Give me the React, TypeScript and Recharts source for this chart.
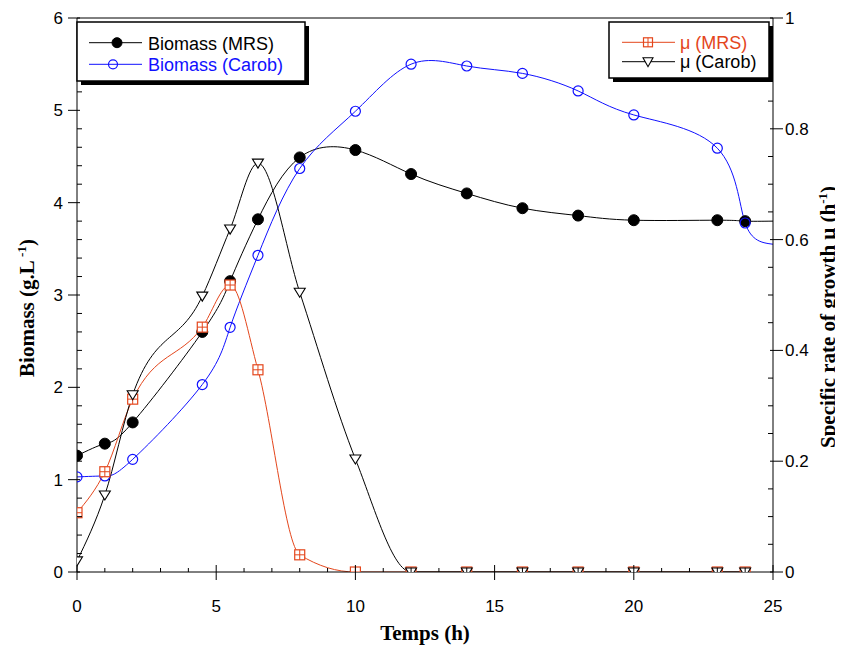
import React from 'react';
import { ComposedChart, Line, XAxis, YAxis, ReferenceLine, Legend } from 'recharts';

// ---------- data ----------
const time = [0, 1, 2, 4.5, 5.5, 6.5, 8, 10, 12, 14, 16, 18, 20, 23, 24, 25];
const biomassMRS = [1.26, 1.39, 1.62, 2.6, 3.15, 3.82, 4.49, 4.57, 4.31, 4.1, 3.94, 3.86, 3.81, 3.81, 3.8, 3.8];
const biomassCarob = [1.03, 1.04, 1.22, 2.03, 2.65, 3.43, 4.37, 4.99, 5.5, 5.48, 5.4, 5.21, 4.95, 4.59, 3.78, 3.55];
const muMRS: (number | null)[] = [0.107, 0.181, 0.312, 0.442, 0.518, 0.365, 0.031, 0, 0, 0, 0, 0, 0, 0, 0, null];
const muCarob: (number | null)[] = [0.02, 0.139, 0.32, 0.498, 0.619, 0.738, 0.505, 0.204, 0, 0, 0, 0, 0, 0, 0, null];
const lastMeasured = 24; // the curves run on to 25 without a marker

const seriesNames = ['Biomass (MRS)', 'Biomass (Carob)', 'μ (MRS)', 'μ (Carob)'];
const xLabels = [0, 5, 10, 15, 20, 25];
const leftLabels = [0, 1, 2, 3, 4, 5, 6];
const rightLabels = [0, 0.2, 0.4, 0.6, 0.8, 1];
const xTitle = 'Temps (h)';
const leftTitle = 'Biomass (g.L';
const rightTitle = 'Specific rate of growth μ (h';

// ---------- styling / layout ----------
const W = 835;
const H = 638;
const LEFT_W = 69;
const RIGHT_W = 70;
const TOP = 10;
const X_H = 74;
const RED = '#e4461c';
const BLUE = '#1010ff';
const SANS = '"Liberation Sans", Arial, sans-serif';
const SERIF = '"Liberation Serif", "Times New Roman", serif';

const range = (a: number, b: number, s: number) =>
  Array.from({ length: Math.round((b - a) / s) + 1 }, (_, i) => +(a + i * s).toFixed(4));
const xTicks = range(0, 25, 1);
const leftTicks = range(0, 6, 0.2);
const rightTicks = range(0, 1, 0.05);
const isIn = (v: number, arr: number[]) => arr.some((l) => Math.abs(l - v) < 1e-6);

const data = time.map((t, i) => ({
  t,
  bm: biomassMRS[i],
  bc: biomassCarob[i],
  mm: muMRS[i],
  mc: muCarob[i],
}));

// ---------- ticks ----------
const XTick = (p: any) => {
  const { x, y, payload } = p;
  const v = payload.value;
  if (isIn(v, xLabels)) {
    return (
      <g>
        <line x1={x} x2={x} y1={y - 7} y2={y + 8} stroke="#000" />
        <text x={x} y={y + 40} textAnchor="middle" fontFamily={SANS} fontSize={17} fill="#000">
          {v}
        </text>
      </g>
    );
  }
  return <line x1={x} x2={x} y1={y} y2={y - 4} stroke="#000" />;
};

const LeftTick = (p: any) => {
  const { x, y, payload } = p;
  const v = payload.value;
  if (isIn(v, leftLabels)) {
    return (
      <g>
        <line x1={x - 9} x2={x + 3} y1={y} y2={y} stroke="#000" />
        <text x={x - 14} y={y + 6} textAnchor="end" fontFamily={SANS} fontSize={17} fill="#000">
          {Math.round(v)}
        </text>
      </g>
    );
  }
  return <line x1={x} x2={x + 5} y1={y} y2={y} stroke="#000" />;
};

const RightTick = (p: any) => {
  const { x, y, payload } = p;
  const v = payload.value;
  if (isIn(v, rightLabels)) {
    const s = Math.abs(v) < 1e-6 ? '0' : Math.abs(v - 1) < 1e-6 ? '1' : v.toFixed(1);
    return (
      <g>
        <line x1={x - 3} x2={x + 10} y1={y} y2={y} stroke="#000" />
        <text x={x + 12} y={y + 6} textAnchor="start" fontFamily={SANS} fontSize={17} fill="#000">
          {s}
        </text>
      </g>
    );
  }
  return <line x1={x - 5} x2={x} y1={y} y2={y} stroke="#000" />;
};

// ---------- axis titles ----------
const XTitle = () => (
  <text x={LEFT_W + (W - LEFT_W - RIGHT_W) / 2} y={H - 6} textAnchor="middle" fontFamily={SERIF} fontWeight="bold" fontSize={21} fill="#000">
    {xTitle}
  </text>
);

const LeftTitle = () => {
  const cx = 25.5;
  const cy = 300;
  return (
    <text x={cx} y={cy} transform={`rotate(-90 ${cx} ${cy})`} textAnchor="middle" fontFamily={SERIF} fontWeight="bold" fontSize={21} fill="#000">
      <tspan>{leftTitle}</tspan>
      <tspan dy={-8} fontSize={13}> -1</tspan>
      <tspan dy={8}>)</tspan>
    </text>
  );
};

const RightTitle = () => {
  const cx = 827;
  const cy = 309;
  return (
    <text x={cx} y={cy} transform={`rotate(-90 ${cx} ${cy})`} textAnchor="middle" fontFamily={SERIF} fontWeight="bold" fontSize={21} fill="#000">
      <tspan>{rightTitle}</tspan>
      <tspan dy={-8} fontSize={13}>-1</tspan>
      <tspan dy={8}>)</tspan>
    </text>
  );
};

// ---------- markers ----------
const hidden = (p: any) =>
  p.cx == null || p.cy == null || p.value == null || (p.payload && p.payload.t > lastMeasured);

const FilledCircle = ({ cx, cy, r = 5.5 }: any) => <circle cx={cx} cy={cy} r={r} fill="#000" stroke="#000" />;
const OpenCircle = ({ cx, cy, r = 5 }: any) => (
  <circle cx={cx} cy={cy} r={r} fill="none" stroke={BLUE} strokeWidth={1.2} />
);
const GridSquare = ({ cx, cy, s = 5 }: any) => (
  <g>
    <rect x={cx - s} y={cy - s} width={2 * s} height={2 * s} fill="#fff" stroke={RED} strokeWidth={1.2} />
    <line x1={cx} x2={cx} y1={cy - s} y2={cy + s} stroke={RED} strokeWidth={1} />
    <line x1={cx - s} x2={cx + s} y1={cy} y2={cy} stroke={RED} strokeWidth={1} />
  </g>
);
const DownTriangle = ({ cx, cy, s = 5.5 }: any) => (
  <path d={`M${cx - s},${cy - 4} L${cx + s},${cy - 4} L${cx},${cy + 5} Z`} fill="#fff" stroke="#000" strokeWidth={1.1} />
);

const dotOf = (Comp: any) => (p: any) =>
  hidden(p) ? <g key={`d${p.index}`} /> : <g key={`d${p.index}`}><Comp cx={p.cx} cy={p.cy} /></g>;

// ---------- legend ----------
const LegendBoxes = () => {
  const row = (
    y: number,
    x1: number,
    x2: number,
    tx: number,
    ty: number,
    lineColor: string,
    textColor: string,
    label: string,
    marker: React.ReactNode
  ) => (
    <g>
      <line x1={x1} x2={x2} y1={y} y2={y} stroke={lineColor} strokeWidth={1} />
      {marker}
      <text x={tx} y={ty} fontFamily={SANS} fontSize={18} fill={textColor}>
        {label}
      </text>
    </g>
  );
  return (
    <svg width={W} height={90} style={{ display: 'block' }}>
      {/* left box */}
      <rect x={73} y={18} width={228} height={59} fill="#000" />
      <rect x={69} y={14} width={228} height={59} fill="#fff" stroke="#000" strokeWidth={1.5} />
      {row(34.7, 81, 134, 140, 41.5, '#000', '#000', seriesNames[0], <FilledCircle cx={109} cy={34.7} r={5} />)}
      {row(56.3, 81, 134, 140, 62.8, BLUE, BLUE, seriesNames[1], <OpenCircle cx={105} cy={56.3} r={4.5} />)}
      {/* right box */}
      <rect x={605} y={18} width={160} height={56} fill="#000" />
      <rect x={601} y={14} width={160} height={56} fill="#fff" stroke="#000" strokeWidth={1.5} />
      {row(34.3, 614, 667, 672, 41.3, RED, RED, seriesNames[2], <GridSquare cx={640} cy={34.3} s={4.5} />)}
      {row(53.7, 614, 667, 672, 60.3, '#000', '#000', seriesNames[3], <DownTriangle cx={640} cy={53.7} s={5} />)}
    </svg>
  );
};

export default function App() {
  return (
    <div style={{ width: W, height: H }}>
      <ComposedChart width={W} height={H} data={data} margin={{ top: TOP, right: 0, bottom: 0, left: 0 }}>
        <XAxis
          dataKey="t"
          type="number"
          domain={[0, 25]}
          ticks={xTicks}
          interval={0}
          tick={<XTick />}
          tickLine={false}
          tickSize={0}
          tickMargin={0}
          height={X_H}
          axisLine={{ stroke: '#000' }}
          allowDataOverflow
          label={<XTitle />}
        />
        <YAxis
          yAxisId="left"
          orientation="left"
          type="number"
          domain={[0, 6]}
          ticks={leftTicks}
          interval={0}
          tick={<LeftTick />}
          tickLine={false}
          tickSize={0}
          tickMargin={0}
          width={LEFT_W}
          axisLine={{ stroke: '#000' }}
          allowDataOverflow
          label={<LeftTitle />}
        />
        <YAxis
          yAxisId="right"
          orientation="right"
          type="number"
          domain={[0, 1]}
          ticks={rightTicks}
          interval={0}
          tick={<RightTick />}
          tickLine={false}
          tickSize={0}
          tickMargin={0}
          width={RIGHT_W}
          axisLine={{ stroke: '#000' }}
          allowDataOverflow
          label={<RightTitle />}
        />
        <ReferenceLine yAxisId="left" y={6} stroke="#000" />
        <Legend
          verticalAlign="middle"
          align="center"
          layout="horizontal"
          wrapperStyle={{ position: 'absolute', top: 0, left: 0, width: W, height: 90, margin: 0, padding: 0 }}
          content={() => <LegendBoxes />}
        />
        <Line yAxisId="left" dataKey="bm" name={seriesNames[0]} type="natural" stroke="#000" strokeWidth={1} dot={dotOf(FilledCircle)} activeDot={false} isAnimationActive={false} />
        <Line yAxisId="left" dataKey="bc" name={seriesNames[1]} type="natural" stroke={BLUE} strokeWidth={1} dot={dotOf(OpenCircle)} activeDot={false} isAnimationActive={false} />
        <Line yAxisId="right" dataKey="mm" name={seriesNames[2]} type="monotone" stroke={RED} strokeWidth={1} dot={dotOf(GridSquare)} activeDot={false} isAnimationActive={false} />
        <Line yAxisId="right" dataKey="mc" name={seriesNames[3]} type="monotone" stroke="#000" strokeWidth={1} dot={dotOf(DownTriangle)} activeDot={false} isAnimationActive={false} />
      </ComposedChart>
    </div>
  );
}
